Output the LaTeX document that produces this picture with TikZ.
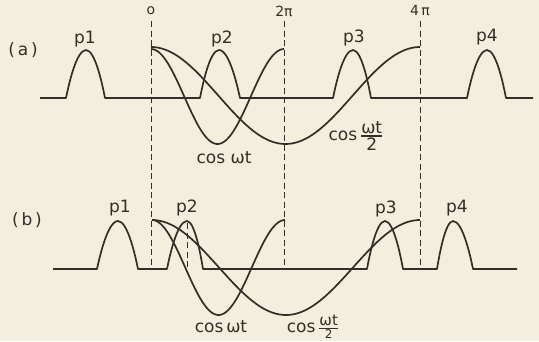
\documentclass[tikz,border=0pt]{standalone}
\usepackage{fontspec}
\usepackage{amsmath}
\setmainfont{DejaVu Sans}
\definecolor{paper}{RGB}{243,238,221}
\definecolor{ink}{RGB}{52,46,40}

\begin{document}
\begin{tikzpicture}[x=1pt,y=-1pt,
  wave/.style={draw=ink,line width=1.7pt,line join=round},
  guide/.style={draw=ink,line width=1pt,dash pattern=on 6pt off 3.5pt},
  lbl/.style={text=ink,inner sep=0pt,font=\fontsize{17}{17}\selectfont},
  tick/.style={text=ink,inner sep=0pt,font=\fontsize{14}{14}\selectfont}]
\fill[paper] (0,0) rectangle (539,341);
% phase marks 0, 2pi, 4pi (run through both traces)
\foreach \x/\name/\txt in {151/zero/o, 284/twopi/2π, 420/fourpi/4\,π}{
  \node[tick] (\name) at (\x,11) {\txt};
  \draw[guide] (\x,21) -- (\x,269);
}
% (a) pulse train
\draw[wave] (40,98) \foreach \s/\p/\e in {66/86/105, 200/219/240, 333/353/371, 467/487/506}{
  -- (\s,98) parabola bend (\p,50) (\e,98)} -- (533,98);
% (a) cos wt and cos wt/2
\draw[wave] plot[domain=151:284,samples=80,smooth] (\x,{96.5-47.5*cos((\x-151)/133*360)});
\draw[wave] plot[domain=151:420,samples=100,smooth] (\x,{95.5-48.5*cos((\x-151)/269*360)});
% (b) pulse train, p2 shifted
\draw[wave] (53,269) \foreach \s/\p/\e in {97/118/138, 167/187/203, 367/385/403, 437/453/473}{
  -- (\s,269) parabola bend (\p,221) (\e,269)} -- (517,269);
\draw[guide] (187,223) -- (187,269);
% (b) cos wt and cos wt/2
\draw[wave] plot[domain=152:285,samples=80,smooth] (\x,{267.5-47.5*cos((\x-152)/133*360)});
\draw[wave] plot[domain=152:420,samples=100,smooth] (\x,{267.5-47.5*cos((\x-152)/268*360)});
% labels
\node[lbl] (capa) at (23,50) {(\,a\,)};
\node[lbl] (capb) at (27,220) {(\,b\,)};
\foreach \x/\y/\n in {85/39/1, 222/39/2, 354/38/3, 487/37/4}{
  \node[lbl] (pa\n) at (\x,\y) {p\n};
}
\foreach \x/\y/\n in {120/208/1, 187/208/2, 386/209/3, 457/208/4}{
  \node[lbl] (pb\n) at (\x,\y) {p\n};
}
\node[lbl] (cosa) at (224,158) {cos ωt};
\node[lbl] (halfa) at (356,136) {cos\,$\genfrac{}{}{1.2pt}{}{\hbox{ωt}}{\hbox{2}}$};
\node[lbl] (cosb) at (221,327) {cos\,ωt};
\node[lbl] (halfb) at (313,327) {cos\,$\genfrac{}{}{1pt}{}{\hbox{\fontsize{15}{15}\selectfont ωt}}{\hbox{\fontsize{12}{12}\selectfont 2}}$};
\end{tikzpicture}
\end{document}
